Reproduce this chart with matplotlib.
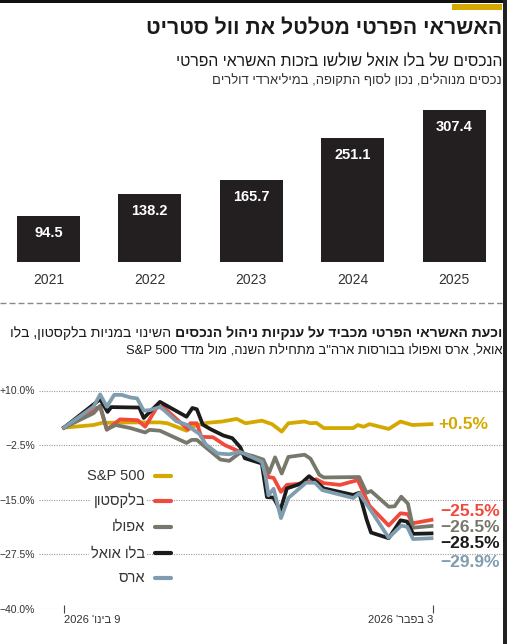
import re
import numpy as np
import matplotlib.pyplot as plt
from matplotlib.patches import Rectangle
from matplotlib.lines import Line2D

# --- data ---
years = ['2021', '2022', '2023', '2024', '2025']
assets = [94.5, 138.2, 165.7, 251.1, 307.4]   # מיליארדי דולרים

# ימים מ-9 בינואר 2026 (0) עד 3 בפברואר 2026 (25), שינוי באחוזים
sp_x = [0, 2.0, 2.6, 4.7, 6.5, 7.0, 8.3, 8.7, 9.7, 10.7, 11.7, 12.3, 13.4, 14.1, 14.75,
        15.2, 16.3, 16.7, 17.1, 17.6, 19.6, 19.9, 20.3, 20.7, 22.0, 22.8, 23.6, 24.9]
sp_y = [1.5, 2.1, 2.6, 2.7, 2.7, 2.5, 0.8, 1.7, 2.6, 2.9, 3.5, 2.5, 3.1, 2.3, 0.6,
        2.5, 2.9, 2.5, 2.6, 1.4, 1.4, 2.1, 1.7, 2.3, 1.2, 2.9, 2.1, 2.3]

bx_x = [0, 2.0, 2.45, 2.9, 3.8, 5.0, 5.5, 6.3, 6.7, 8.4, 8.55, 9.0, 9.3, 10.1, 10.9, 11.9,
        13.4, 13.85, 14.2, 14.7, 15.1, 15.8, 16.3, 17.1, 17.6, 18.7, 19.9, 20.7, 22.0, 22.8,
        23.3, 23.6, 24.9]
bx_y = [1.5, 5.7, 6.3, 1.0, 3.4, 3.2, 1.7, 6.2, 6.3, 1.1, 2.5, 2.5, -0.6, -0.7, -2.5, -4.0,
        -6.0, -9.8, -10.0, -13.2, -11.6, -11.4, -11.1, -10.3, -11.2, -11.6, -10.5, -16.4, -20.9, -18.1,
        -18.3, -20.4, -19.6]

apo_x = [0, 2.0, 2.45, 2.9, 3.5, 4.5, 5.5, 5.8, 6.5, 8.3, 8.65, 9.0, 9.6, 10.6, 11.2, 11.9,
         12.8, 13.5, 13.9, 14.3, 14.75, 15.2, 16.3, 16.7, 17.3, 17.6, 20.0, 20.5, 20.8, 22.0,
         22.4, 22.85, 23.3, 23.65, 24.9]
apo_y = [1.5, 4.8, 6.5, 1.1, 2.1, 1.4, 0.4, 1.0, 0.8, -2.0, -1.3, -1.3, -3.0, -5.8, -6.1, -4.3,
         -5.0, -5.8, -8.8, -5.3, -9.0, -5.2, -4.7, -5.6, -9.3, -9.9, -9.8, -13.4, -13.0, -16.6,
         -16.5, -14.3, -15.9, -21.4, -21.0]

owl_x = [0, 2.45, 2.95, 3.2, 5.1, 5.4, 6.5, 8.3, 8.7, 9.0, 9.4, 9.9, 10.8, 11.4, 11.95, 12.25,
         13.4, 13.75, 14.2, 14.65, 15.1, 15.9, 16.15, 16.6, 17.1, 17.6, 19.6, 20.0, 20.5, 20.8,
         22.0, 22.8, 23.25, 23.65, 24.9]
owl_y = [1.5, 8.0, 5.1, 6.2, 6.1, 3.7, 7.4, 4.0, 6.0, 5.7, 2.2, 1.2, -0.3, -0.9, -3.0, -5.5,
         -6.7, -14.4, -14.5, -17.5, -12.4, -11.5, -11.0, -9.6, -10.9, -12.4, -13.9, -13.4, -19.5, -22.5,
         -23.8, -19.7, -20.0, -22.8, -22.7]

ares_x = [0, 2.0, 2.45, 2.9, 3.4, 3.9, 4.5, 4.95, 5.4, 5.8, 6.5, 6.75, 7.6, 8.35, 8.65, 9.2,
          9.6, 10.4, 11.2, 11.9, 13.4, 13.65, 13.85, 14.2, 14.7, 15.2, 16.4, 17.0, 17.5, 19.6,
          20.0, 20.8, 22.0, 22.85, 23.25, 23.65, 24.9]
ares_y = [1.5, 6.3, 9.1, 6.3, 9.0, 9.0, 8.4, 8.2, 5.4, 5.5, 6.2, 5.6, 3.0, 2.1, 1.3, 0.0,
          -2.3, -4.4, -4.6, -4.0, -6.3, -9.5, -14.0, -12.5, -19.2, -14.6, -11.1, -11.1, -12.8, -14.6,
          -13.5, -17.5, -23.7, -20.9, -21.2, -24.0, -23.8]

names = ['S&P 500', 'בלקסטון', 'אפולו', 'בלו אואל', 'ארס']
end_labels = ['+0.5%', '\u221225.5%', '\u221226.5%', '\u221228.5%', '\u221229.9%']
y_ticks = [10, -2.5, -15, -27.5, -40]
y_ticklabels = ['+10.0%', '\u22122.5%', '\u221215.0%', '\u221227.5%', '\u221240.0%']
x_ticks = [0, 25]
x_ticklabels = ["9 בינו' 2026", "3 בפבר' 2026"]

GOLD = '#D5A800'
RED = '#F1493B'
GREY = '#77786C'
BLACK = '#1B1B1B'
BLUE = '#7F9DAE'
HEB = ['Liberation Sans', 'DejaVu Sans']


def heb(s):
    # matplotlib לא עושה bidi - הופכים את הסדר ומחזירים רצפים לטיניים/מספרים
    r = s[::-1]
    return re.sub(r"[A-Za-z0-9%][A-Za-z0-9&%.+ ]*[A-Za-z0-9%]|[A-Za-z0-9]",
                  lambda m: m.group(0)[::-1], r)


W, H = 507, 644
fig = plt.figure(figsize=(W / 100, H / 100), dpi=100)


def fx(px):
    return px / W


def fy(py):
    return 1 - py / H


def fit(t, width_px):
    # מקטין/מגדיל את הגופן כך שרוחב הטקסט יתאים למקור
    fig.canvas.draw()
    w = t.get_window_extent().width
    t.set_fontsize(t.get_fontsize() * width_px / w)
    return t


# מסגרת ופס זהב
fig.add_artist(Rectangle((0, fy(3)), 1, 3 / H, transform=fig.transFigure, color='#111', lw=0))
fig.add_artist(Rectangle((fx(503), 0), 4 / W, 1, transform=fig.transFigure, color='#222', lw=0))
fig.add_artist(Rectangle((fx(452), fy(10)), 50 / W, 6 / H, transform=fig.transFigure, color=GOLD, lw=0))

fit(fig.text(fx(502), fy(28), heb('האשראי הפרטי מטלטל את וול סטריט'), ha='right', va='center',
             fontsize=17, fontweight='bold', family=HEB, color='#1a1a1a'), 357)
fit(fig.text(fx(502), fy(62), heb('הנכסים של בלו אואל שולשו בזכות האשראי הפרטי'), ha='right',
             va='center', fontsize=13, family=HEB, color='#1a1a1a'), 325)
fit(fig.text(fx(502), fy(81), heb('נכסים מנוהלים, נכון לסוף התקופה, במיליארדי דולרים'), ha='right',
             va='center', fontsize=10.5, family=HEB, color='#333'), 289)

# --- גרף עמודות ---
axb = fig.add_axes([0, fy(262.3), 1, (262.3 - 100) / H])
xs = np.arange(len(years))
axb.bar(xs, assets, width=0.624, color='#231F20')
for i, v in enumerate(assets):
    axb.annotate(f'{v:.1f}', (i, v), xytext=(0, -12.3), textcoords='offset points',
                 ha='center', va='center', color='white', fontweight='bold', fontsize=10.5,
                 family=HEB)
axb.set_xlim(-0.476, 4.519)
axb.set_ylim(0, 327.9)
axb.set_xticks(xs)
axb.set_xticklabels(years, fontsize=10, color='#333', family=HEB)
axb.tick_params(axis='x', length=0, pad=7.5)
axb.set_yticks([])
for s in axb.spines.values():
    s.set_visible(False)
axb.patch.set_alpha(0)

# קו מקווקו מפריד
fig.add_artist(Line2D([0, fx(502)], [fy(302.7)] * 2, transform=fig.transFigure,
                      color='#8a8a8a', lw=1, ls=(0, (4.3, 2.2))))

# כותרת גרף הקווים - חלק מודגש וחלק רגיל באותה שורה
t1 = fig.text(fx(502), fy(333.3), heb('וכעת האשראי הפרטי מכביד על ענקיות ניהול הנכסים'),
              ha='right', va='center', fontsize=11, fontweight='bold', family=HEB, color='#1a1a1a')
t2 = fig.text(0, fy(333.3), heb('השינוי במניות בלקסטון, בלו'),
              ha='right', va='center', fontsize=11, family=HEB, color='#1a1a1a')
fig.canvas.draw()
w_all = t1.get_window_extent().width + t2.get_window_extent().width
k = (492 - 4) / w_all
t1.set_fontsize(11 * k)
t2.set_fontsize(11 * k)
fig.canvas.draw()
t2.set_x(t1.get_window_extent().x0 / W - 4 / W)
fit(fig.text(fx(502), fy(351), heb('אואל, ארס ואפולו בבורסות ארה"ב מתחילת השנה, מול מדד S&P 500'),
             ha='right', va='center', fontsize=11, family=HEB, color='#1a1a1a'), 374)

# --- גרף קווים ---
axl = fig.add_axes([fx(39), fy(609), (503 - 39) / W, (609 - 390.5) / H])
axl.set_xlim((39 - 64) / 14.76, (503 - 64) / 14.76)
axl.set_ylim(-40, 10)
axl.patch.set_alpha(0)
for s in axl.spines.values():
    s.set_visible(False)
for yv in y_ticks:
    axl.axhline(yv, color='#9a9a9a', lw=0.8, ls=(0, (1, 1.2)), zorder=0)

series = [(sp_x, sp_y, GOLD), (bx_x, bx_y, RED), (apo_x, apo_y, GREY),
          (owl_x, owl_y, BLACK), (ares_x, ares_y, BLUE)]
for i, (sx, sy, c) in enumerate(series):
    axl.plot(sx, sy, color=c, lw=2.7, clip_on=False, zorder=2 + i)

axl.set_yticks(y_ticks)
axl.set_yticklabels(y_ticklabels, fontsize=7.5, color='#333', family=HEB)
axl.tick_params(axis='y', length=0, pad=3)
axl.set_xticks(x_ticks)
axl.set_xticklabels([heb(t) for t in x_ticklabels], fontsize=8, color='#333', family=HEB)
axl.tick_params(axis='x', direction='inout', length=5.5, width=0.8, color='#444', pad=1.5)
lbls = axl.get_xticklabels()
lbls[0].set_ha('left')
lbls[1].set_ha('right')

# מקרא
leg_y = [476, 500.7, 526.7, 553.3, 578.3]
colors = [GOLD, RED, GREY, BLACK, BLUE]
for name, yy, c in zip(names, leg_y, colors):
    fig.text(fx(145), fy(yy), heb(name), ha='right', va='center', fontsize=10.5,
             family=HEB, color='#333',
             bbox=dict(facecolor='white', edgecolor='none', pad=1.5))
    fig.add_artist(Line2D([fx(155), fx(171)], [fy(yy)] * 2, transform=fig.transFigure,
                          color=c, lw=3, solid_capstyle='round'))

# תוויות סוף
fig.text(fx(438), fy(424.3), end_labels[0], ha='left', va='center', fontsize=12.5,
         fontweight='bold', color=GOLD, family=HEB)
end_y = [511, 527.3, 544, 562.7]
for lab, yy, c in zip(end_labels[1:], end_y, colors[1:]):
    fig.text(fx(500), fy(yy), lab, ha='right', va='center', fontsize=12.5,
             fontweight='bold', color=c, family=HEB)

fig.savefig('out.png', dpi=100, facecolor='white')
